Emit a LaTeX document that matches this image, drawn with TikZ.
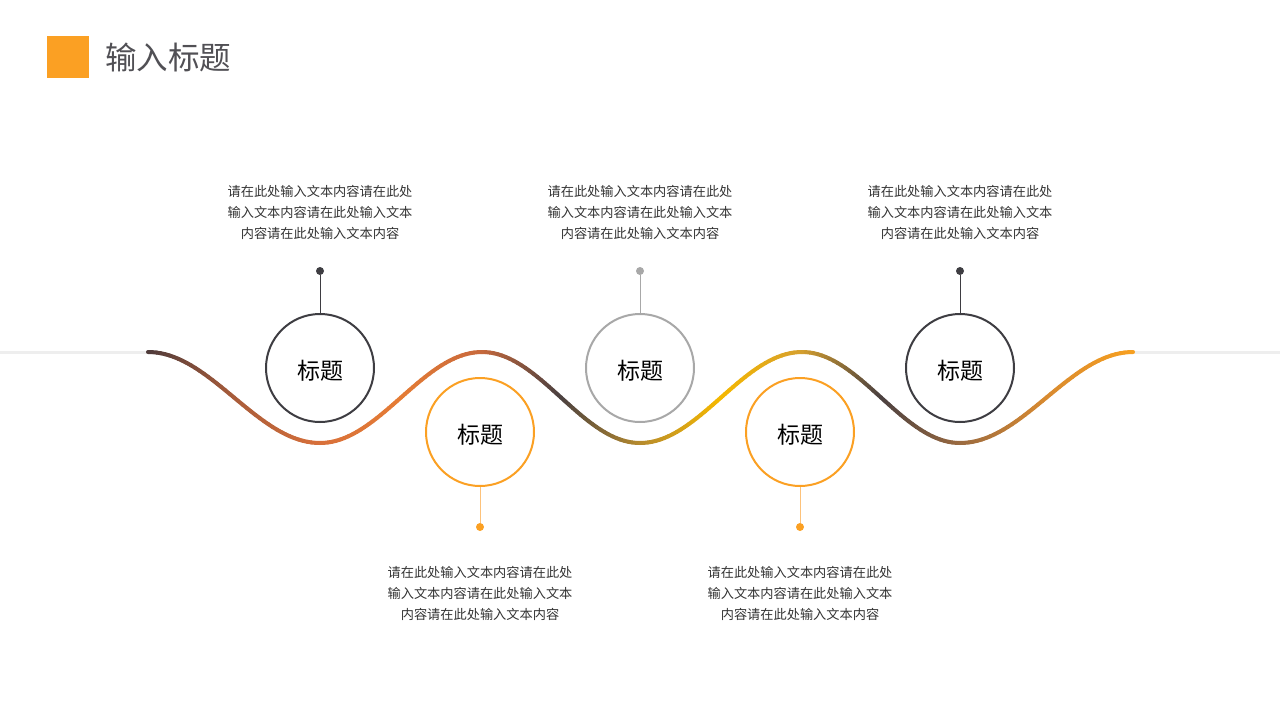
\documentclass[tikz,border=0pt]{standalone}
\usepackage{fontspec}
\newfontfamily\cjk{Noto Sans CJK SC}
\definecolor{orng}{HTML}{FBA023}
\definecolor{lorng}{HTML}{FDC27A}
\definecolor{darkc}{HTML}{3E3D42}
\definecolor{grayc}{HTML}{A8A8A8}
\definecolor{txt}{HTML}{333333}
\definecolor{basegray}{HTML}{EEEEEE}
\definecolor{w0}{HTML}{4D3A3A}
\definecolor{w1}{HTML}{A85C3A}
\definecolor{w2}{HTML}{D8703A}
\definecolor{w3}{HTML}{E57C35}
\definecolor{w4}{HTML}{C8693C}
\definecolor{w5}{HTML}{4A4040}
\definecolor{w6}{HTML}{B58A2E}
\definecolor{w7}{HTML}{F5B800}
\definecolor{w8}{HTML}{D6A02E}
\definecolor{w9}{HTML}{4A4040}
\definecolor{w10}{HTML}{9A6A40}
\definecolor{w11}{HTML}{D88A30}
\definecolor{w12}{HTML}{F7A020}
\tikzset{
  circ/.style={circle, minimum size=108pt, inner sep=0pt, line width=2pt, fill=white, font=\cjk\fontsize{23}{26}\selectfont, text=black},
  circtext/.style={inner sep=0pt, font=\cjk\fontsize{23}{26}\selectfont, text=black},
  dot/.style={circle, minimum size=8pt, inner sep=0pt},
  desc/.style={align=center, inner sep=0pt, text=txt, font=\cjk\fontsize{13.2}{21}\selectfont},
}
\begin{document}
\begin{tikzpicture}[x=1pt,y=-1pt]
\useasboundingbox (0,0) rectangle (1280,720);
% header
\node[fill=orng, minimum size=42pt, inner sep=0pt, anchor=north west] (sq) at (47,36) {};
\node[anchor=west, inner sep=0pt, text=darkc!90, font=\cjk\fontsize{31.5}{34}\selectfont] (title) at (105,57) {输入标题};
% base line ends
\coordinate (wl) at (148,352);
\coordinate (wr) at (1133,352);
\coordinate (el) at (0,352);
\coordinate (er) at (1280,352);
\draw[basegray, line width=3pt] (el) -- (wl);
\draw[basegray, line width=3pt] (wr) -- (er);
% circles
\node[circ, draw=darkc] (c1) at (320,368) {};
\node[circ, draw=orng] (c2) at (480,432) {};
\node[circ, draw=grayc] (c3) at (640,368) {};
\node[circ, draw=orng] (c4) at (800,432) {};
\node[circ, draw=darkc] (c5) at (960,368) {};
\node[circtext] (l1) at (320,371) {标题};
\node[circtext] (l2) at (480,435) {标题};
\node[circtext] (l3) at (640,371) {标题};
\node[circtext] (l4) at (800,435) {标题};
\node[circtext] (l5) at (960,371) {标题};
% wave
\foreach \xa/\ya/\xb/\yb/\ca/\cm/\cb in {148/352/320/443/w0/w1/w2, 320/443/482/352/w2/w3/w4, 482/352/640/443/w4/w5/w6, 640/443/802/352/w6/w7/w8, 802/352/960/443/w8/w9/w10, 960/443/1133/352/w10/w11/w12}{
  \foreach \i in {0,...,39}{
    \pgfmathsetmacro\ta{\i/40}
    \pgfmathsetmacro\tb{(\i+1)/40}
    \pgfmathsetmacro\tm{(\i+0.5)/40}
    \pgfmathsetmacro\xp{\xa+(\xb-\xa)*\ta}
    \pgfmathsetmacro\xq{\xa+(\xb-\xa)*\tb}
    \pgfmathsetmacro\yp{\ya+(\yb-\ya)*(1-cos(180*\ta))/2}
    \pgfmathsetmacro\yq{\ya+(\yb-\ya)*(1-cos(180*\tb))/2}
    \ifdim\tm pt<0.5pt
      \pgfmathtruncatemacro\p{200*\tm}\colorlet{wc}{\cm!\p!\ca}
    \else
      \pgfmathtruncatemacro\p{200*(\tm-0.5)}\colorlet{wc}{\cb!\p!\cm}
    \fi
    \draw[wc, line width=4pt, line cap=round] (\xp,\yp) -- (\xq,\yq);
  }
}
% dots and stems
\node[dot, fill=darkc] (d1) at (320,271) {};
\node[dot, fill=orng] (d2) at (480,527) {};
\node[dot, fill=grayc] (d3) at (640,271) {};
\node[dot, fill=orng] (d4) at (800,527) {};
\node[dot, fill=darkc] (d5) at (960,271) {};
\draw[darkc, line width=1pt] (d1) -- (c1);
\draw[lorng, line width=1pt] (c2) -- (d2);
\draw[grayc, line width=1pt] (d3) -- (c3);
\draw[lorng, line width=1pt] (c4) -- (d4);
\draw[darkc, line width=1pt] (d5) -- (c5);
% texts
\node[desc] (t1) at (320,212) {请在此处输入文本内容请在此处\\输入文本内容请在此处输入文本\\内容请在此处输入文本内容};
\node[desc] (t3) at (640,212) {请在此处输入文本内容请在此处\\输入文本内容请在此处输入文本\\内容请在此处输入文本内容};
\node[desc] (t5) at (960,212) {请在此处输入文本内容请在此处\\输入文本内容请在此处输入文本\\内容请在此处输入文本内容};
\node[desc] (t2) at (480,593) {请在此处输入文本内容请在此处\\输入文本内容请在此处输入文本\\内容请在此处输入文本内容};
\node[desc] (t4) at (800,593) {请在此处输入文本内容请在此处\\输入文本内容请在此处输入文本\\内容请在此处输入文本内容};
\end{tikzpicture}
\end{document}
